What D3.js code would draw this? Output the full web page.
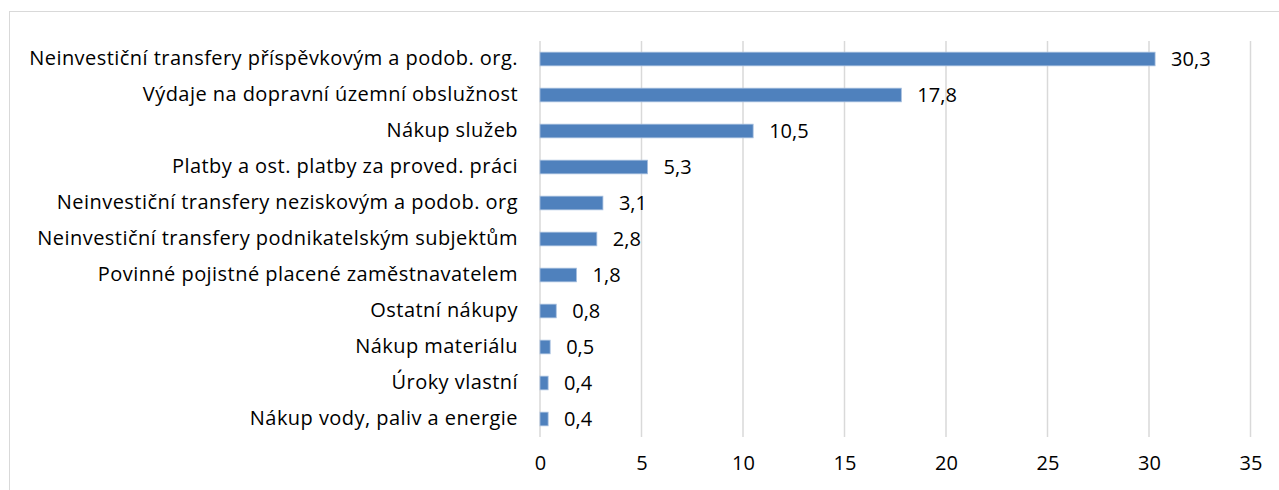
<!DOCTYPE html>
<html>
<head>
<meta charset="utf-8">
<script src="https://cdn.jsdelivr.net/npm/d3@7"></script>
<style>
  body { margin: 0; background: #fff; }
  svg text { font-family: "Open Sans", "Liberation Sans", sans-serif; fill: #000; }
</style>
</head>
<body>
<svg id="chart" width="1279" height="490"></svg>
<script>
// data
const categories = [
  "Neinvestiční transfery příspěvkovým a podob. org.",
  "Výdaje na dopravní územní obslužnost",
  "Nákup služeb",
  "Platby a ost. platby za proved. práci",
  "Neinvestiční transfery neziskovým a podob. org",
  "Neinvestiční transfery podnikatelským subjektům",
  "Povinné pojistné placené zaměstnavatelem",
  "Ostatní nákupy",
  "Nákup materiálu",
  "Úroky vlastní",
  "Nákup vody, paliv a energie"
];
const values = [30.3, 17.8, 10.5, 5.3, 3.1, 2.8, 1.8, 0.8, 0.5, 0.4, 0.4];
const xTicks = [0, 5, 10, 15, 20, 25, 30, 35];

const svg = d3.select("#chart");
const width = +svg.attr("width");
const height = +svg.attr("height");

// chart area border
svg.append("rect")
  .attr("x", 9.5).attr("y", 11.5)
  .attr("width", width + 20).attr("height", height + 20)
  .attr("fill", "none")
  .attr("stroke", "#d9d9d9")
  .attr("stroke-width", 1);

const margin = { top: 41, right: 29, bottom: 53, left: 540 };
const innerW = 1250.5 - margin.left;
const innerH = 437 - margin.top;
const fontSize = 20;

const g = svg.append("g")
  .attr("transform", `translate(${margin.left},${margin.top})`);

const x = d3.scaleLinear().domain([0, 35]).range([0, innerW]);
const y = d3.scaleBand().domain(categories).range([0, innerH]).paddingInner(0.62).paddingOuter(0.31);

// gridlines
g.selectAll("line.grid")
  .data(xTicks)
  .enter().append("line")
  .attr("class", "grid")
  .attr("x1", d => x(d)).attr("x2", d => x(d))
  .attr("y1", 0).attr("y2", innerH)
  .attr("stroke", "#d9d9d9")
  .attr("stroke-width", 1.5);

// x axis labels
const xAxis = g.append("g")
  .attr("transform", `translate(0,${innerH})`)
  .call(d3.axisBottom(x).tickValues(xTicks).tickSize(0).tickPadding(19));
xAxis.select(".domain").remove();
xAxis.selectAll("text")
  .attr("font-size", fontSize)
  .style("font-family", "'Open Sans', sans-serif")
  .attr("fill", "#000");

// category labels
const yAxis = g.append("g")
  .call(d3.axisLeft(y).tickSize(0).tickPadding(22));
yAxis.select(".domain").remove();
yAxis.selectAll("text")
  .attr("font-size", fontSize)
  .style("font-family", "'Open Sans', sans-serif")
  .style("letter-spacing", "0.45px")
  .attr("fill", "#000");

// bars
g.selectAll("rect.bar")
  .data(values)
  .enter().append("rect")
  .attr("class", "bar")
  .attr("x", 0)
  .attr("y", (d, i) => y(categories[i]))
  .attr("width", d => x(d))
  .attr("height", y.bandwidth())
  .attr("fill", "#4f81bd")
  .attr("stroke", "#a7bfdf")
  .attr("stroke-width", 0.8);

// value labels
g.selectAll("text.val")
  .data(values)
  .enter().append("text")
  .attr("class", "val")
  .attr("x", d => x(d) + 16)
  .attr("y", (d, i) => y(categories[i]) + y.bandwidth() / 2)
  .attr("dy", "0.35em")
  .attr("font-size", fontSize)
  .text(d => d3.format(".1f")(d).replace(".", ","));
</script>
</body>
</html>
